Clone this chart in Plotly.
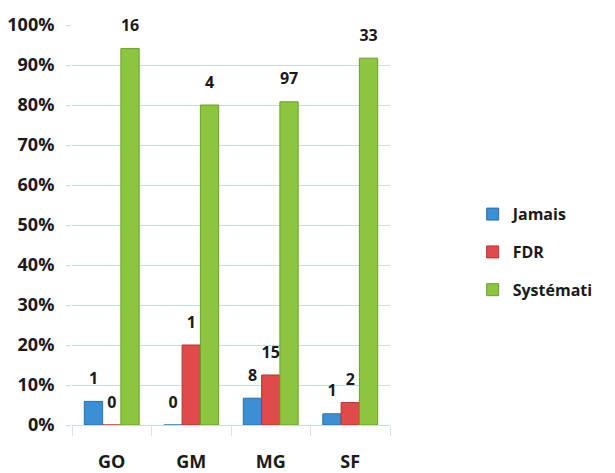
import plotly.graph_objects as go

categories = ["GO", "GM", "MG", "SF"]
series_names = ["Jamais", "FDR", "Systémati"]
jamais_pct = [0.059, 0.0, 0.067, 0.028]
fdr_pct = [0.0, 0.20, 0.125, 0.056]
syst_pct = [0.941, 0.80, 0.808, 0.917]
jamais_n = ["1", "0", "8", "1"]
fdr_n = ["0", "1", "15", "2"]
syst_n = ["16", "4", "97", "33"]
y_ticks = [0, 0.1, 0.2, 0.3, 0.4, 0.5, 0.6, 0.7, 0.8, 0.9, 1.0]

colors = ["#3b8fd4", "#e04a4a", "#8cc63f"]
line_colors = ["#2a6fa8", "#b83232", "#6a9e2a"]

font_fam = "Open Sans, Lato, sans-serif"

fig = go.Figure()
for i, (name, vals, c, lc) in enumerate(zip(series_names, [jamais_pct, fdr_pct, syst_pct],
                                            colors, line_colors)):
    fig.add_trace(go.Bar(
        x=categories, y=vals, name=name, legendgroup=name, offsetgroup=str(i),
        marker=dict(color=c, line=dict(color=lc, width=1)),
    ))
for i, (name, vals, labels) in enumerate(zip(series_names, [jamais_pct, fdr_pct, syst_pct],
                                             [jamais_n, fdr_n, syst_n])):
    fig.add_trace(go.Scatter(
        x=categories, y=vals, text=labels, mode="markers+text", offsetgroup=str(i),
        textposition="top center", showlegend=False, hoverinfo="skip", cliponaxis=False,
        marker=dict(size=20, opacity=0),
        textfont=dict(size=16, color="#1a1a1a", family=font_fam, weight="bold"),
    ))

fig.update_layout(
    width=615, height=473,
    barmode="group", bargap=0.31, bargroupgap=0,
    scattermode="group", scattergap=0.31,
    paper_bgcolor="white", plot_bgcolor="white",
    margin=dict(l=72, r=225, t=25, b=48, autoexpand=False),
    font=dict(family=font_fam, color="#1a1a1a"),
    showlegend=True,
    legend=dict(x=1.26, y=0.432, xanchor="left", yanchor="middle",
                font=dict(size=16, family=font_fam, weight="bold", color="#1a1a1a"),
                traceorder="grouped", tracegroupgap=14, itemwidth=30,
                bgcolor="rgba(0,0,0,0)"),
)
fig.update_yaxes(range=[0, 1.0], tickvals=y_ticks, tickformat=".0%",
                 showgrid=True, gridcolor="#c5dcee", gridwidth=1,
                 ticks="outside", ticklen=5, tickcolor="#c5dcee",
                 tickfont=dict(size=18, family=font_fam, weight="bold", color="#1a1a1a"),
                 showline=False, zeroline=False, ticklabelstandoff=8)
fig.update_xaxes(showline=True, linecolor="#c5dcee", ticks="outside", tickson="boundaries",
                 ticklen=10, tickcolor="#d5e4f0",
                 tickfont=dict(size=18, family=font_fam, weight="bold", color="#1a1a1a"),
                 ticklabelstandoff=20)

fig.write_html("out.html", config={"displayModeBar": False},
               post_script="document.body.style.margin='0';")
